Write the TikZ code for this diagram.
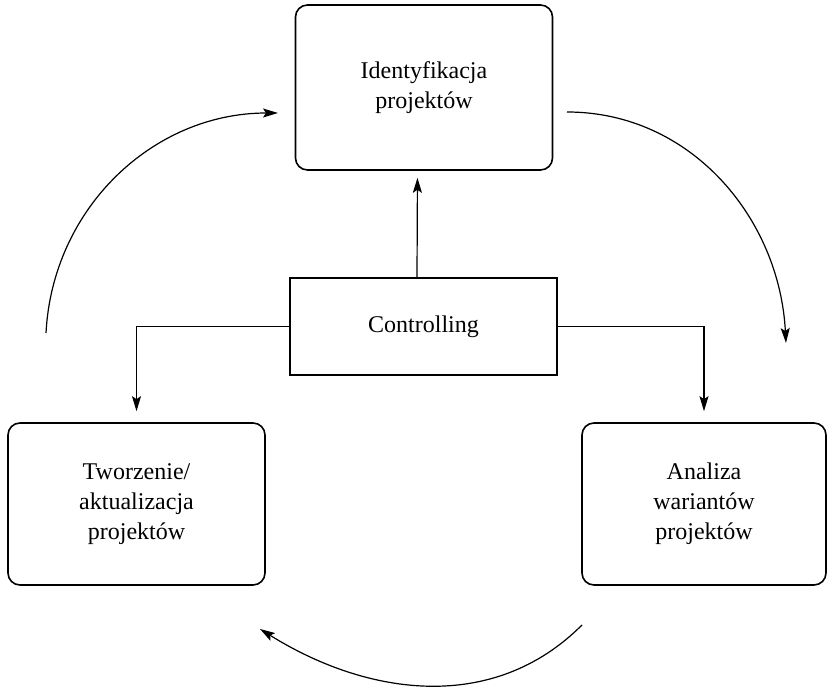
\documentclass[tikz,border=0pt]{standalone}
\usepackage{fontspec}
\setmainfont{Liberation Serif}
\usepackage{tikz}
\usetikzlibrary{arrows.meta, positioning, calc}

\begin{document}
\begin{tikzpicture}[x=0.5pt, y=0.5pt,
    phase/.style={draw, line width=0.8pt, rounded corners=6pt, align=center,
        minimum width=128.5pt, minimum height=81pt, font=\fontsize{12}{15}\selectfont},
    hub/.style={draw, line width=0.8pt, align=center,
        minimum width=133.5pt, minimum height=48.5pt, font=\fontsize{12}{15}\selectfont},
    arr/.style={-{Stealth[length=7.5pt, width=4.5pt, inset=1.5pt]}, line width=0.6pt}
]
\useasboundingbox (0,0) rectangle (832,695);
% Phases of the cycle
\node[phase, minimum height=82.5pt] (ident) at (424,607.5) {Identyfikacja\\projektów};
\node[hub] (ctrl) at (423.5,368.5) {Controlling};
\node[phase] (tworz) at (136.5,191) {Tworzenie/\\aktualizacja\\projektów};
\node[phase, minimum width=122pt] (analiza) at (704,191) {Analiza\\wariantów\\projektów};

% Controlling feeds all phases
\draw[arr, shorten >=3.5pt] ([xshift=-3.25pt]ctrl.north) -- ([xshift=-3.25pt]ident.south);
\draw[arr, shorten >=5.5pt] (ctrl.west) -| (tworz.north);
\draw[arr, shorten >=5.5pt] (ctrl.east) -| (analiza.north);

% Cycle arcs
\coordinate (la) at (46,362);
\coordinate (lb) at (278,582);
\coordinate (ra) at (567,583);
\coordinate (rb) at (786,352);
\coordinate (ba) at (582,70);
\coordinate (bb) at (260,66);
\draw[arr] (la) to[out=87, in=180] (lb);
\draw[arr] (ra) to[out=0, in=93] (rb);
\draw[arr] (ba) to[out=225, in=-32] (bb);
\end{tikzpicture}
\end{document}
